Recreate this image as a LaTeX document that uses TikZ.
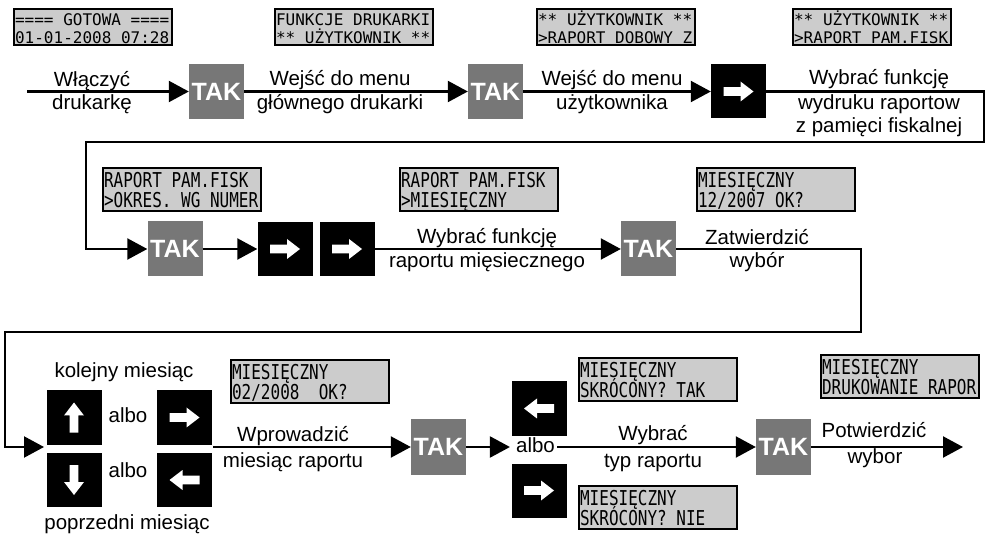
\documentclass[tikz,border=0pt]{standalone}
\usepackage{fontspec}
\usepackage{graphicx}
\setmainfont{Liberation Sans}
\newfontfamily\lcdfont{DejaVu Sans Mono}
\usetikzlibrary{arrows.meta}
\definecolor{takgray}{RGB}{119,119,119}
\definecolor{lcdgray}{RGB}{204,204,204}
\newcommand{\lcdline}[3]{\noindent\raisebox{0pt}[#1][0pt]{\scalebox{1}[#2]{\fontsize{16}{16}\lcdfont #3}}\par}
\newcommand{\lcdT}[2]{\vbox{\hsize=156pt\baselineskip=18pt\lineskiplimit=-100pt\lineskip=0pt\kern2.5pt%
\lcdline{11.7pt}{1}{#1}\lcdline{11.7pt}{1}{#2}}}
\newcommand{\lcdM}[2]{\vbox{\hsize=156pt\baselineskip=20pt\lineskiplimit=-100pt\lineskip=0pt%
\lcdline{15pt}{1.28}{#1}\lcdline{15pt}{1.28}{#2}}}
\newcommand{\lblsize}{\fontsize{20.5}{24}\selectfont}
\newcommand{\warrow}[2]{\fill[white,shift={(#1)},rotate=#2] (-15,-4.3) -- (2,-4.3) -- (2,-10) -- (15,0) -- (2,10) -- (2,4.3) -- (-15,4.3) -- cycle;}
\begin{document}
\begin{tikzpicture}[x=1pt,y=-1pt,
 lcdbase/.style={draw=black, fill=lcdgray, line width=2.2pt, inner xsep=1pt, inner ysep=0pt, minimum width=158pt, anchor=north west},
 lcdtop/.style={lcdbase, minimum height=36pt},
 lcdmid/.style={lcdbase, minimum height=43pt},
 takbox/.style={fill=takgray, text=white, font=\fontsize{25}{25}\selectfont\bfseries, minimum width=55pt, minimum height=55pt, inner sep=0pt},
 keybox/.style={fill=black, minimum width=55pt, minimum height=54pt, inner sep=0pt},
 lbl/.style={font=\lblsize, inner sep=0pt, anchor=base},
 conn/.style={line width=2.2pt, -{Triangle[length=20pt,width=21pt]}}]
\useasboundingbox (0,0) rectangle (988,534);
% LCD displays
\node[lcdtop] (d1) at (13,8) {\lcdT{==== GOTOWA ====}{01-01-2008 07:28}};
\node[lcdtop] (d2) at (274,8) {\lcdT{FUNKCJE DRUKARKI}{** UŻYTKOWNIK **}};
\node[lcdtop] (d3) at (536,8) {\lcdT{** UŻYTKOWNIK **}{>RAPORT DOBOWY Z}};
\node[lcdtop] (d4) at (792,8) {\lcdT{** UŻYTKOWNIK **}{>RAPORT PAM.FISK}};
\node[lcdmid] (d5) at (102,167) {\lcdM{RAPORT PAM.FISK}{>OKRES. WG NUMER}};
\node[lcdmid] (d6) at (399,167) {\lcdM{RAPORT PAM.FISK}{>MIESIĘCZNY}};
\node[lcdmid] (d7) at (696,167) {\lcdM{MIESIĘCZNY}{12/2007 OK?}};
\node[lcdmid] (d8) at (230,359) {\lcdM{MIESIĘCZNY}{02/2008\ \ OK?}};
\node[lcdmid] (d9) at (578,357) {\lcdM{MIESIĘCZNY}{SKRÓCONY? TAK}};
\node[lcdmid] (d10) at (578,485) {\lcdM{MIESIĘCZNY}{SKRÓCONY? NIE}};
\node[lcdmid] (d11) at (820,354) {\lcdM{MIESIĘCZNY}{DRUKOWANIE RAPOR}};
% buttons
\node[takbox] (tak1) at (216.5,91.5) {TAK};
\node[takbox] (tak2) at (495.5,91.5) {TAK};
\node[keybox] (k1) at (738.5,91.5) {};
\node[takbox] (tak3) at (175,249) {TAK};
\node[keybox] (k2) at (285,249) {};
\node[keybox] (k3) at (347,249) {};
\node[takbox] (tak4) at (648.5,249) {TAK};
\node[keybox] (kup) at (74,417.5) {};
\node[keybox] (kdown) at (74,480) {};
\node[keybox] (kright) at (184.5,417.5) {};
\node[keybox] (kleft) at (184.5,480) {};
\node[takbox] (tak5) at (438.5,447) {TAK};
\node[keybox] (ka) at (539,408.5) {};
\node[keybox] (kb) at (539,490.5) {};
\node[takbox] (tak6) at (783.5,447) {TAK};
\warrow{k1}{0}
\warrow{k2}{0}
\warrow{k3}{0}
\warrow{kup}{90}
\warrow{kdown}{-90}
\warrow{kright}{0}
\warrow{kleft}{180}
\warrow{ka}{180}
\warrow{kb}{0}
% labels
\node[lbl] (t1a) at (92,87) {Włączyć};
\node[lbl] (t1b) at (92,110) {drukarkę};
\node[lbl] (t2a) at (340,86) {Wejść do menu};
\node[lbl] (t2b) at (340,110) {głównego drukarki};
\node[lbl] (t3a) at (612,86) {Wejść do menu};
\node[lbl] (t3b) at (612,110) {użytkownika};
\node[lbl] (t4a) at (879,85) {Wybrać funkcję};
\node[lbl] (t4b) at (879,110) {wydruku raportow};
\node[lbl] (t4c) at (879,133) {z pamięci fiskalnej};
\node[lbl] (t5a) at (487,244) {Wybrać funkcję};
\node[lbl] (t5b) at (487,268) {raportu mięsiecznego};
\node[lbl] (t6a) at (757,245) {Zatwierdzić};
\node[lbl] (t6b) at (757,268) {wybór};
\node[lbl] (t7a) at (124,378) {kolejny miesiąc};
\node[lbl] (t7b) at (127,529) {poprzedni miesiąc};
\node[lbl] (t8a) at (128,423) {albo};
\node[lbl] (t8b) at (128,477) {albo};
\node[lbl] (t9a) at (293,442) {Wprowadzić};
\node[lbl] (t9b) at (293,467) {miesiąc raportu};
\node[lbl] (t10a) at (653,440) {Wybrać};
\node[lbl] (t10b) at (653,467) {typ raportu};
\node[lbl] (t11a) at (874,438) {Potwierdzić};
\node[lbl] (t11b) at (875,463) {wybor};
\node[lbl] (albo3) at (535.5,452) {albo};
% connectors
\coordinate (s0) at (27,91.5);
\draw[conn] (s0) -- (tak1);
\draw[conn] (tak1) -- (tak2);
\draw[conn] (tak2) -- (k1);
\coordinate (r1) at (984,142);
\coordinate (l1) at (86,142);
\draw[conn] (k1.east) -| (r1) -- (l1) |- (tak3.west);
\draw[conn] (tak3) -- (k2);
\draw[conn] (k3) -- (tak4);
\coordinate (r2) at (861,332);
\coordinate (l2) at (5,332);
\coordinate (gin) at (44,447);
\draw[conn] (tak4.east) -| (r2) -- (l2) |- (gin);
\coordinate (gout) at (213,447);
\draw[conn] (gout) -- (tak5);
\draw[conn] (tak5) -- ([xshift=-6pt]tak5 -| albo3.west);
\draw[conn] ([xshift=2pt]albo3.east |- tak6) -- (tak6);
\coordinate (e6) at (963,447);
\draw[conn] (tak6) -- (e6);
\end{tikzpicture}
\end{document}
